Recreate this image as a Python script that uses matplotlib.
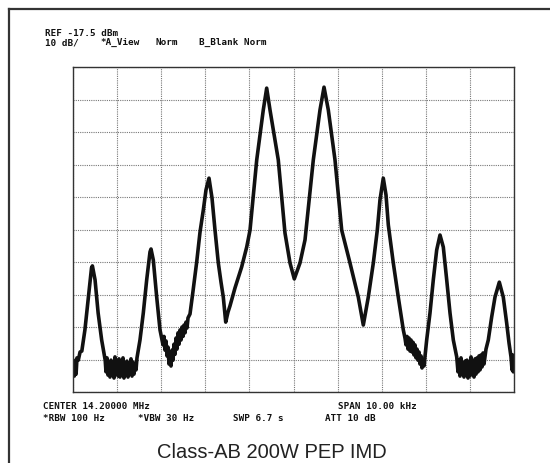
import matplotlib.pyplot as plt
from matplotlib.lines import Line2D

# spectrum analyser trace: offset from 14.2 MHz centre (kHz) and level (dBm)
freq_khz = [
    -5.000, -4.990, -4.970, -4.955, -4.930, -4.910, -4.880, -4.840, -4.800, -4.730,
    -4.650, -4.580, -4.560, -4.500, -4.430, -4.350, -4.270,
    -4.252, -4.229, -4.206, -4.184, -4.161, -4.138, -4.116, -4.093, -4.070, -4.048,
    -4.025, -4.002, -3.980, -3.957, -3.934, -3.912, -3.889, -3.866, -3.844, -3.821,
    -3.796, -3.776, -3.753, -3.730, -3.707, -3.685, -3.662, -3.639, -3.617, -3.594,
    -3.571,
    -3.549, -3.481, -3.406, -3.329, -3.254, -3.231, -3.179, -3.102, -3.027, -2.989,
    -2.959, -2.937, -2.914, -2.891, -2.868, -2.846, -2.823, -2.800, -2.778, -2.755,
    -2.732, -2.710, -2.687, -2.664, -2.642, -2.619, -2.596, -2.574, -2.551, -2.528,
    -2.506, -2.483, -2.460, -2.438, -2.415, -2.392, -2.347,
    -2.281, -2.195, -2.120, -2.045, -1.984, -1.916, -1.848, -1.780, -1.705, -1.644,
    -1.592, -1.537, -1.485, -1.440, -1.327, -1.175, -1.061, -0.986, -0.834, -0.685,
    -0.608, -0.533, -0.345, -0.193, -0.079, 0.018, 0.147, 0.261, 0.449, 0.601,
    0.692, 0.789, 0.941, 1.093, 1.281, 1.469, 1.583, 1.696, 1.810, 1.900,
    1.961, 2.036, 2.098, 2.150, 2.263, 2.376, 2.490,
    2.528, 2.551, 2.574, 2.596, 2.619, 2.642, 2.664, 2.687, 2.710, 2.732,
    2.755, 2.778, 2.800, 2.823, 2.846, 2.868, 2.891, 2.914, 2.937, 2.959,
    3.020, 3.095, 3.170, 3.247, 3.322, 3.397, 3.474, 3.549, 3.624, 3.701,
    3.730, 3.753, 3.776, 3.798, 3.821, 3.844, 3.866, 3.889, 3.912, 3.934,
    3.957, 3.980, 4.002, 4.025, 4.048, 4.070, 4.093, 4.116, 4.138, 4.161,
    4.184, 4.206, 4.229, 4.252, 4.274, 4.297, 4.320,
    4.365, 4.417, 4.494, 4.569, 4.667, 4.757, 4.834, 4.887, 4.932, 4.955,
    4.970, 4.984, 5.000,
]
level_dbm = [
    -110.7, -107.7, -112.6, -108.3, -112.0, -107.0, -107.7, -105.2, -104.9, -98.4,
    -88.3, -79.3, -78.7, -83.0, -93.2, -101.5, -107.7,
    -111.3, -107.0, -112.3, -108.3, -112.9, -107.7, -112.0, -109.5, -113.2, -106.7,
    -111.7, -108.6, -112.6, -107.3, -112.9, -109.2, -111.3, -107.0, -113.2, -108.9,
    -112.3, -108.0, -112.9, -109.5, -111.0, -107.3, -112.6, -108.3, -112.0, -108.9,
    -110.7,
    -107.0, -101.5, -93.2, -83.0, -74.4, -73.5, -76.9, -88.3, -98.4, -100.9,
    -103.0, -100.4, -104.6, -101.8, -106.4, -103.7, -108.9, -105.2, -109.5, -104.6,
    -107.7, -102.8, -105.9, -100.9, -104.3, -99.3, -102.8, -98.4, -101.5, -97.5,
    -100.4, -96.9, -99.3, -96.0, -97.8, -94.7, -93.5,
    -86.7, -77.5, -68.3, -61.5, -55.3, -51.7, -57.8, -67.7, -77.8, -83.7,
    -88.3, -96.0, -92.9, -91.0, -85.5, -79.0, -72.9, -67.7, -46.1, -30.7,
    -24.0, -30.7, -46.1, -68.6, -77.8, -82.7, -77.8, -70.7, -46.1, -30.7,
    -23.7, -30.7, -46.1, -67.7, -77.8, -88.3, -96.9, -88.3, -77.8, -67.7,
    -58.4, -51.7, -56.9, -66.1, -77.8, -88.3, -98.4,
    -100.9, -103.0, -100.4, -104.3, -100.9, -104.9, -101.5, -105.2, -102.2, -106.1,
    -103.0, -107.0, -104.3, -107.7, -105.2, -108.9, -106.4, -110.1, -107.7, -109.5,
    -101.5, -93.2, -83.0, -73.8, -69.2, -72.9, -83.0, -93.2, -101.5, -106.7,
    -111.3, -107.7, -112.6, -107.0, -112.0, -108.6, -112.9, -108.0, -112.3, -107.7,
    -113.2, -108.9, -112.6, -106.7, -111.7, -108.3, -112.9, -107.3, -112.0, -107.0,
    -111.3, -106.4, -110.7, -106.1, -109.8, -105.5, -108.9,
    -104.3, -101.5, -94.4, -88.3, -83.7, -88.3, -96.3, -102.4, -106.7, -110.7,
    -106.1, -111.3, -107.0,
]

ref_level = -17.5
db_per_div = 10
span_khz = 10

W, H = 550, 463


def fx(px):
    return px / W


def fy(py):
    return 1 - py / H


fig = plt.figure(figsize=(W / 100, H / 100), dpi=100)
fig.patch.set_facecolor("white")

# outer frame (only top and left edges fall inside the picture)
fig.add_artist(Line2D([fx(9), fx(9)], [fy(9), 0], color="#333333", lw=1.6))
fig.add_artist(Line2D([fx(9), 1], [fy(9), fy(9)], color="#333333", lw=1.6))

ax = fig.add_axes([fx(73), fy(392), (514 - 73) / W, (392 - 67) / H])
ax.plot(freq_khz, level_dbm, color="#111111", lw=2.6, solid_joinstyle="round")

bottom = ref_level - 10 * db_per_div
ax.set_xlim(-span_khz / 2, span_khz / 2)
ax.set_ylim(bottom, ref_level)
ax.set_xticks([-5 + i for i in range(11)])
ax.set_yticks([bottom + db_per_div * i for i in range(11)])
ax.tick_params(length=0, labelbottom=False, labelleft=False)
ax.grid(True, color="#777777", linestyle=(0, (1, 1)), lw=0.8)
for s in ax.spines.values():
    s.set_color("#333333")
    s.set_linewidth(1.0)

mono = dict(family="DejaVu Sans Mono", fontsize=6.7, fontweight="bold",
            color="#111111", va="baseline")
fig.text(fx(45), fy(36), f"REF {ref_level} dBm", **mono)
fig.text(fx(45), fy(45), "10 dB/", **mono)
fig.text(fx(100), fy(45), "*A_View", **mono)
fig.text(fx(156), fy(45), "Norm", **mono)
fig.text(fx(199), fy(45), "B_Blank Norm", **mono)

fig.text(fx(43), fy(409), "CENTER 14.20000 MHz", **mono)
fig.text(fx(338), fy(409), "SPAN 10.00 kHz", **mono)
fig.text(fx(43), fy(421), "*RBW 100 Hz", **mono)
fig.text(fx(138), fy(421), "*VBW 30 Hz", **mono)
fig.text(fx(233), fy(421), "SWP 6.7 s", **mono)
fig.text(fx(325), fy(421), "ATT 10 dB", **mono)

fig.text(fx(272), fy(458), "Class-AB 200W PEP IMD", family="Liberation Sans",
         fontsize=14.5, color="#222222", ha="center", va="baseline")

fig.savefig("out.png", dpi=100)
